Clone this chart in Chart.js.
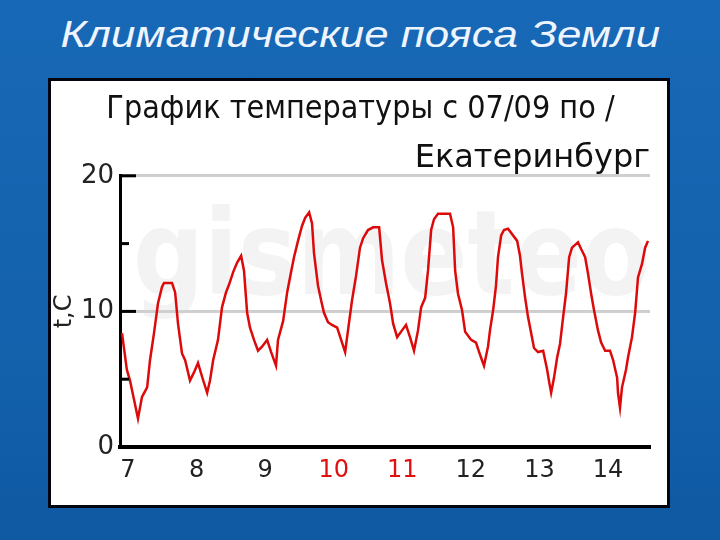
<!DOCTYPE html>
<html>
<head>
<meta charset="utf-8">
<script src="https://cdn.jsdelivr.net/npm/chart.js@4.4.1/dist/chart.umd.min.js"></script>
<style>
  html, body { margin: 0; padding: 0; }
  body {
    width: 720px; height: 540px; overflow: hidden; position: relative;
    background: linear-gradient(180deg, #1768b6 0%, #1462ad 60%, #0f59a2 100%);
  }
  #slideTitle {
    position: absolute; left: 0; top: 14px; width: 720px; text-align: center;
    color: #eef5ff; font: italic 36px "Liberation Sans", Arial, sans-serif; white-space: nowrap;
  }
  #slideTitle span { display: inline-block; transform-origin: center; }
  #box {
    position: absolute; left: 48px; top: 78px; width: 616px; height: 424px;
    border: 3px solid #05050f; background: #fff;
  }
</style>
</head>
<body>
<div id="slideTitle"><span id="titleText">Климатические пояса Земли</span></div>
<div id="box"><canvas id="tempChart" width="616" height="424"></canvas></div>

<script>
// Chart texts
const CHART_TITLE = "График температуры с 07/09 по /";
const CHART_SUBTITLE = "Екатеринбург";
const Y_AXIS_TITLE = "t,C";
const WATERMARK = "gismeteo";

// X axis: hours since 07/09 00:00, one label per day
const dayTicks = [0, 24, 48, 72, 96, 120, 144, 168];
const dayLabels = ["7", "8", "9", "10", "11", "12", "13", "14"];
const weekendLabels = ["10", "11"];

// Y axis ticks
const tempTicks = [0, 5, 10, 15, 20];
const tempLabelled = [0, 10, 20];

// Temperature series
const hours = [-2.1, -0.4, 0.7, 3.5, 4.9, 6.7, 7.7, 9.1, 10.5, 11.9, 12.6, 15.4, 16.5, 17.5, 18.9, 20.0,
  21.7, 23.1, 24.5, 25.9, 27.7, 28.7, 29.8, 31.5, 32.9, 34.3, 35.4, 36.8, 38.2, 39.6, 40.6, 41.7,
  42.7, 44.1, 45.5, 46.9, 48.7, 50.1, 51.8, 52.5, 54.3, 55.7, 56.7, 58.1, 59.5, 60.9, 62.0, 63.4,
  64.4, 65.1, 66.5, 67.6, 68.6, 70.0, 71.4, 73.2, 74.6, 76.0, 77.0, 78.4, 79.8, 81.2, 82.3, 84.0,
  85.8, 87.9, 88.9, 90.3, 91.7, 92.8, 94.2, 95.9, 97.3, 98.7, 100.1, 101.5, 102.6, 104.0, 105.0, 106.1,
  107.1, 108.5, 112.7, 113.8, 114.5, 115.5, 116.9, 118.0, 120.1, 121.8, 122.9, 123.9, 124.6, 126.0, 126.7, 127.8,
  128.8, 129.5, 130.6, 131.6, 133.0, 134.4, 136.2, 137.2, 137.9, 139.0, 140.0, 141.1, 142.1, 143.5, 145.3, 146.7,
  147.4, 148.1, 149.1, 150.2, 151.2, 152.3, 153.3, 154.4, 155.4, 157.5, 158.6, 160.0, 161.0, 162.1, 163.1, 164.5,
  165.6, 167.0, 168.7, 169.8, 171.2, 171.5, 172.2, 172.9, 174.3, 175.0, 176.4, 177.5, 178.5, 179.9, 181.0, 182.0];
const temps = [8.4, 5.7, 4.9, 2.1, 3.7, 4.4, 6.4, 8.4, 10.6, 11.8, 12.1, 12.1, 11.4, 9.1, 6.9, 6.4,
  4.9, 5.5, 6.2, 5.2, 4.0, 4.9, 6.4, 7.9, 10.3, 11.4, 12.0, 12.9, 13.6, 14.1, 13.0, 9.9,
  8.8, 7.9, 7.1, 7.4, 7.9, 7.0, 6.0, 7.9, 9.3, 11.4, 12.5, 14.0, 15.2, 16.3, 16.9, 17.3,
  16.5, 14.3, 11.9, 10.8, 9.9, 9.2, 9.0, 8.8, 7.9, 7.0, 8.6, 10.8, 12.6, 14.7, 15.4, 16.0,
  16.2, 16.2, 13.8, 12.1, 10.6, 9.1, 8.1, 8.6, 9.0, 8.1, 7.1, 8.6, 10.3, 11.0, 13.0, 16.0,
  16.8, 17.2, 17.2, 16.2, 13.0, 11.3, 10.1, 8.5, 7.9, 7.7, 7.0, 6.4, 6.0, 7.4, 8.6, 10.1,
  11.9, 14.0, 15.6, 16.0, 16.1, 15.7, 15.2, 14.1, 12.8, 11.0, 9.6, 8.4, 7.3, 7.0, 7.1, 5.7,
  4.8, 4.0, 5.1, 6.6, 7.6, 9.6, 11.3, 14.0, 14.7, 15.1, 14.6, 14.0, 12.8, 11.3, 10.1, 8.6,
  7.7, 7.1, 7.1, 6.4, 5.1, 4.0, 2.9, 4.4, 5.7, 6.6, 8.1, 9.9, 12.5, 13.5, 14.7, 15.2];

// Stretch the slide title to its width in the picture
const titleSpan = document.getElementById("titleText");
titleSpan.style.transform = "scaleX(" + (600 / titleSpan.offsetWidth) + ")";

/**
 * Faint logo behind the plot.
 */
const watermarkPlugin = {
  id: "watermark",
  beforeDraw(chart) {
    const { ctx, chartArea, scales } = chart;
    ctx.save();
    ctx.font = "bold 118px 'DejaVu Sans'";
    ctx.fillStyle = "#f3f3f3";
    ctx.textBaseline = "alphabetic";
    const w = ctx.measureText(WATERMARK).width;
    const left = chartArea.left + 13;
    const target = chartArea.right - left;
    ctx.translate(left, scales.y.getPixelForValue(11.3));
    ctx.scale(target / w, 1);
    ctx.fillText(WATERMARK, 0, 0);
    ctx.restore();
  }
};

/**
 * Tick marks pointing into the plot on the y axis.
 */
const innerTicksPlugin = {
  id: "innerTicks",
  afterDraw(chart) {
    const { ctx, chartArea, scales } = chart;
    ctx.save();
    ctx.strokeStyle = "#000";
    ctx.lineWidth = 3;
    tempTicks.forEach((v) => {
      if (v === 0) return;
      const py = scales.y.getPixelForValue(v);
      const len = tempLabelled.includes(v) ? 16 : 9;
      ctx.beginPath();
      ctx.moveTo(chartArea.left, py);
      ctx.lineTo(chartArea.left + len, py);
      ctx.stroke();
    });
    ctx.restore();
  }
};

const POINTS = hours.map((h, i) => ({ x: h, y: temps[i] }));

new Chart(document.getElementById("tempChart").getContext("2d"), {
  type: "line",
  data: {
    datasets: [{
      data: POINTS,
      borderColor: "#dc0a0a",
      borderWidth: 2.5,
      pointRadius: 0,
      tension: 0,
      fill: false
    }]
  },
  options: {
    responsive: false,
    animation: false,
    layout: { padding: { left: 20, right: 17, top: 0, bottom: 0 } },
    plugins: {
      legend: { display: false },
      tooltip: { enabled: false },
      title: {
        display: true,
        text: CHART_TITLE,
        color: "#111",
        font: { family: "'DejaVu Sans Condensed'", size: 32, weight: "normal" },
        padding: { top: 9, bottom: 0 }
      },
      subtitle: {
        display: true,
        text: CHART_SUBTITLE,
        align: "end",
        color: "#111",
        font: { family: "'DejaVu Sans'", size: 32, weight: "normal" },
        padding: { top: 11, bottom: -2 }
      }
    },
    scales: {
      x: {
        type: "linear",
        min: -2.8,
        max: 182.7,
        afterBuildTicks: (scale) => { scale.ticks = dayTicks.map((v) => ({ value: v })); },
        afterFit: (scale) => { scale.height = 58; },
        ticks: {
          autoSkip: false,
          maxRotation: 0,
          padding: 9,
          font: { family: "'DejaVu Sans'", size: 24 },
          color: (c) => weekendLabels.includes(dayLabels[dayTicks.indexOf(c.tick.value)]) ? "#e01010" : "#222",
          callback: (v) => dayLabels[dayTicks.indexOf(v)]
        },
        grid: { display: false, drawTicks: false },
        border: { color: "#000", width: 4 }
      },
      y: {
        min: 0,
        max: 20,
        afterBuildTicks: (scale) => { scale.ticks = tempTicks.map((v) => ({ value: v })); },
        afterFit: (scale) => { scale.width = 49; },
        ticks: {
          padding: 6,
          font: { family: "'DejaVu Sans'", size: 26 },
          color: "#222",
          callback: (v) => (tempLabelled.includes(v) ? String(v) : "")
        },
        grid: {
          drawTicks: false,
          lineWidth: 3,
          color: (c) => (c.tick && (c.tick.value === 10 || c.tick.value === 20) ? "#cfcfcf" : "rgba(0,0,0,0)")
        },
        border: { color: "#000", width: 3 },
        title: {
          display: true,
          text: Y_AXIS_TITLE,
          color: "#222",
          font: { family: "'DejaVu Sans'", size: 24 },
          padding: { top: -21, bottom: 0 }
        }
      }
    }
  },
  plugins: [watermarkPlugin, innerTicksPlugin]
});
</script>
</body>
</html>
